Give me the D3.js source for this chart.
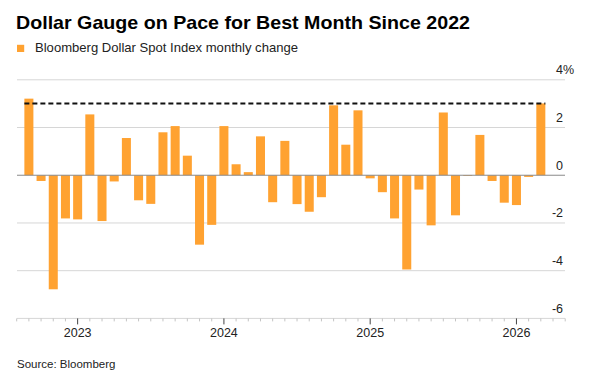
<!DOCTYPE html>
<html>
<head>
<meta charset="utf-8">
<script src="https://cdn.jsdelivr.net/npm/d3@7"></script>
<style>
  body { margin: 0; background: #fff; }
  svg { display: block; font-family: "Liberation Sans", Arial, sans-serif; }
</style>
</head>
<body>
<div id="wrapper"></div>
<script>
// Data
const months = ["2022-09","2022-10","2022-11","2022-12",
  "2023-01","2023-02","2023-03","2023-04","2023-05","2023-06","2023-07","2023-08","2023-09","2023-10","2023-11","2023-12",
  "2024-01","2024-02","2024-03","2024-04","2024-05","2024-06","2024-07","2024-08","2024-09","2024-10","2024-11","2024-12",
  "2025-01","2025-02","2025-03","2025-04","2025-05","2025-06","2025-07","2025-08","2025-09","2025-10","2025-11","2025-12",
  "2026-01","2026-02","2026-03"];
const change = [3.21,-0.24,-4.78,-1.81,
  -1.85,2.55,-1.92,-0.26,1.56,-1.05,-1.20,1.80,2.06,0.82,-2.91,-2.08,
  2.06,0.46,0.13,1.63,-1.13,1.44,-1.21,-1.53,-0.92,2.93,1.28,2.72,
  -0.13,-0.71,-1.81,-3.95,-0.60,-2.10,2.63,-1.68,-0.03,1.69,-0.24,-1.15,
  -1.25,-0.07,3.01];
// axis months run one month before and two after the bars
const axisMonths = ["2022-08", ...months, "2026-04", "2026-05"];
const yTicks = [-6, -4, -2, 0, 2, 4];
const yearLabels = ["2023","2024","2025","2026"];

const dataset = months.map((m, i) => ({month: m, value: change[i]}));

// Dimension
const dimension = {width: 605, height: 377};
const plot = {left: 17, right: 565};

// Canvas
const wrapper = d3.select('#wrapper').append('svg')
  .attr('width', dimension.width).attr('height', dimension.height);

// Scales
const xScale = d3.scaleBand().domain(axisMonths)
  .range([10.6, 571.3]).paddingInner(0.26).paddingOuter(0.13);
const yScale = d3.scaleLinear().domain([-6, 4]).range([318.4, 79.8]);

// Title + legend
const title = wrapper.append('text').text('Dollar Gauge on Pace for Best Month Since 2022')
  .attr('x', 16).attr('y', 29.3).attr('font-size', 18.5).attr('font-weight', 'bold').attr('fill', '#000');
const fitText = (sel, w) => {
  const len = sel.node().getComputedTextLength();
  if (Math.abs(len - w) / w > 0.015) sel.attr('textLength', w).attr('lengthAdjust', 'spacingAndGlyphs');
};
fitText(title, 454);

wrapper.append('rect').attr('x', 17).attr('y', 44.8).attr('width', 7.2).attr('height', 7.2).attr('fill', '#ffa231');
const subtitle = wrapper.append('text').text('Bloomberg Dollar Spot Index monthly change')
  .attr('x', 35).attr('y', 51.6).attr('font-size', 13.6).attr('fill', '#222');
fitText(subtitle, 263);

// Gridlines
const grid = wrapper.append('g').attr('class', 'grid');
grid.selectAll('line').data(yTicks.filter(d => d !== 0)).enter().append('line')
  .attr('x1', plot.left).attr('x2', plot.right)
  .attr('y1', d => yScale(d)).attr('y2', d => yScale(d))
  .attr('stroke', '#d6d6d6').attr('stroke-width', 1);

// Y labels
const yLabels = wrapper.append('g').attr('font-size', 12.5).attr('fill', '#222');
yLabels.selectAll('text').data(yTicks).enter().append('text')
  .attr('x', 563).attr('y', d => yScale(d) - 5.5).attr('text-anchor', 'end')
  .text(d => d);
yLabels.append('text').attr('x', 563).attr('y', yScale(4) - 5.5).text('%');

// Bars
wrapper.append('g').attr('class', 'bars').selectAll('rect')
  .data(dataset).enter().append('rect')
  .attr('x', d => xScale(d.month))
  .attr('width', xScale.bandwidth())
  .attr('y', d => yScale(Math.max(0, d.value)))
  .attr('height', d => Math.abs(yScale(d.value) - yScale(0)))
  .attr('fill', '#ffa231');

// Zero line
wrapper.append('line')
  .attr('x1', plot.left).attr('x2', plot.right)
  .attr('y1', yScale(0)).attr('y2', yScale(0))
  .attr('stroke', '#8a8a8a').attr('stroke-width', 1);

// Dashed reference at latest value
const last = dataset[dataset.length - 1];
wrapper.append('line')
  .attr('x1', xScale(dataset[0].month)).attr('x2', xScale(last.month) + xScale.bandwidth())
  .attr('y1', yScale(last.value)).attr('y2', yScale(last.value))
  .attr('stroke', '#111').attr('stroke-width', 2).attr('stroke-dasharray', '5,3');

// X axis
const xAxisGenerator = d3.axisBottom(xScale).tickSize(3).tickSizeOuter(0)
  .tickFormat(d => d.endsWith('-01') && yearLabels.includes(d.slice(0, 4)) ? d.slice(0, 4) : '');
const xAxis = wrapper.append('g').attr('class', 'x-axis')
  .attr('transform', `translate(0,${yScale(-6)})`).call(xAxisGenerator);
xAxis.select('.domain').remove();
xAxis.selectAll('.tick line').attr('stroke', '#bdbdbd')
  .attr('y2', d => d.endsWith('-01') ? 6 : 3)
  .attr('stroke', d => d.endsWith('-01') ? '#444' : '#c4c4c4');
xAxis.selectAll('.tick text').attr('y', 10).attr('font-size', 12.5)
  .attr('fill', '#222').attr('font-family', '"Liberation Sans", Arial, sans-serif');

// Source
wrapper.append('text').text('Source: Bloomberg')
  .attr('x', 17).attr('y', 368).attr('font-size', 11.5).attr('fill', '#222');
</script>
</body>
</html>
